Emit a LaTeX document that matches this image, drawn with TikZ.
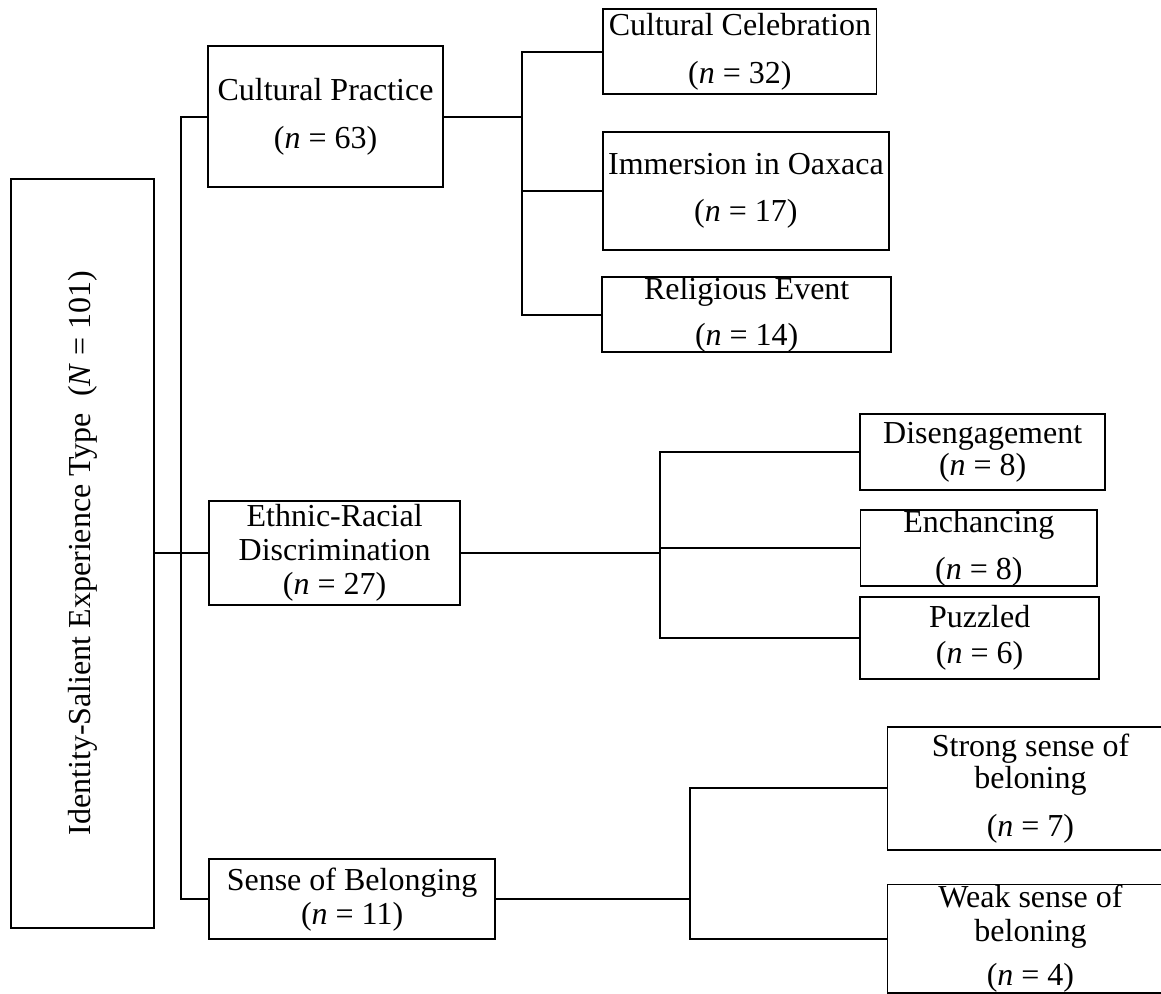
\documentclass[tikz,border=0pt]{standalone}
\usepackage{fontspec}
\setmainfont{Liberation Serif}
\usepackage{graphicx}

\begin{document}
\begin{tikzpicture}[line width = 0.7pt, box/.style = {draw, inner sep = 0pt, align = center, font = \fontsize{12}{12.75}\selectfont}]
		\useasboundingbox (0, 0) rectangle (15.30, 13.09);
		\node[box, minimum width = 1.88cm, minimum height = 9.87cm] (root) at (1.09, 5.80) {\rotatebox{90}{Identity-Salient Experience Type\ \ (\textit{N} = 101)}};
		\node[box, minimum width = 3.10cm, minimum height = 1.86cm] (cp) at (4.29, 11.55) {Cultural Practice\\[5.25pt](\textit{n} = 63)};
		\node[box, minimum width = 3.31cm, minimum height = 1.37cm] (er) at (4.41, 5.80) {Ethnic-Racial\\Discrimination\\(\textit{n} = 27)};
		\node[box, minimum width = 3.77cm, minimum height = 1.05cm] (sb) at (4.64, 1.24) {Sense of Belonging\\(\textit{n} = 11)};
		\node[box, minimum width = 3.60cm, minimum height = 1.12cm] (cel) at (9.75, 12.41) {Cultural Celebration\\[5.25pt](\textit{n} = 32)};
		\node[box, minimum width = 3.76cm, minimum height = 1.56cm] (imm) at (9.83, 10.57) {Immersion in Oaxaca\\[4.9pt](\textit{n} = 17)};
		\node[box, minimum width = 3.81cm, minimum height = 0.94cm] (rel) at (9.84, 8.94) {Religious Event\\[4.5pt](\textit{n} = 14)};
		\node[box, minimum width = 3.23cm, minimum height = 1.00cm] (dis) at (12.95, 7.13) {Disengagement\\[-0.75pt](\textit{n} = 8)};
		\node[box, minimum width = 3.12cm, minimum height = 0.95cm] (ench) at (12.90, 5.87) {Enchancing\\[4.9pt](\textit{n} = 8)};
		\node[box, minimum width = 3.15cm, minimum height = 1.08cm] (puz) at (12.91, 4.68) {Puzzled\\[0.75pt](\textit{n} = 6)};
		\node[box, minimum width = 3.77cm, minimum height = 1.62cm] (strong) at (13.58, 2.70) {Strong sense of\\[-0.75pt]beloning\\[5.25pt](\textit{n} = 7)};
		\node[box, minimum width = 3.77cm, minimum height = 1.41cm] (weak) at (13.58, 0.72) {Weak sense of\\beloning\\[4.1pt](\textit{n} = 4)};
		% split points of the tree
		\coordinate (trunk) at (2.39, 5.80);
		\coordinate (cpsplit) at (6.88, 11.55);
		\coordinate (ersplit) at (8.70, 5.80);
		\coordinate (sbsplit) at (9.09, 1.24);
		\draw (root.east) -- (er.west);
		\draw (cp.west) -| (trunk) |- (sb.west);
		\draw (cp.east) -- (cpsplit);
		\draw (cel.west) -| (cpsplit) |- (rel.west);
		\draw (imm.west) -- (imm.west -| cpsplit);
		\draw (er.east) -- (ersplit);
		\draw (dis.west) -| (ersplit) |- (puz.west);
		\draw (ench.west) -- (ench.west -| ersplit);
		\draw (sb.east) -- (sbsplit);
		\draw (strong.west) -| (sbsplit) |- (weak.west);
	\end{tikzpicture}
\end{document}
